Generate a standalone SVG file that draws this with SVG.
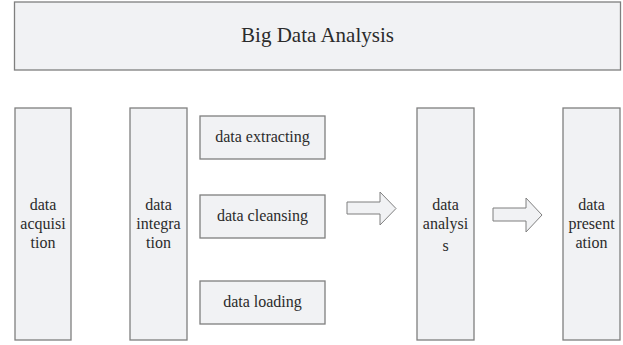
<svg xmlns="http://www.w3.org/2000/svg" width="623" height="345" viewBox="0 0 623 345">
  <style>
    .box { fill: #f1f2f4; stroke: #7f7f7f; stroke-width: 1.3; }
    .arrow { fill: #f1f2f4; stroke: #7f7f7f; stroke-width: 1; stroke-linejoin: miter; }
    text { font-family: "Liberation Serif", "DejaVu Serif", serif; fill: #2b2b2b; text-anchor: middle; }
    .t { font-size: 16px; }
    .title { font-size: 21px; }
  </style>
  <rect width="623" height="345" fill="#ffffff"/>

  <g id="big-data-analysis">
    <rect class="box" x="14.5" y="2" width="606" height="68"/>
    <text class="title" x="317.5" y="42">Big Data Analysis</text>
  </g>

  <g id="data-acquisition">
    <rect class="box" x="15" y="108" width="56" height="232"/>
    <text class="t" x="43" y="210">data</text>
    <text class="t" x="43" y="229">acquisi</text>
    <text class="t" x="43" y="248">tion</text>
  </g>

  <g id="data-integration">
    <rect class="box" x="130" y="108" width="57" height="232"/>
    <text class="t" x="158.5" y="210">data</text>
    <text class="t" x="158.5" y="229">integra</text>
    <text class="t" x="158.5" y="248">tion</text>
  </g>

  <g id="data-extracting">
    <rect class="box" x="200" y="116" width="125" height="43"/>
    <text class="t" x="262.5" y="142">data extracting</text>
  </g>

  <g id="data-cleansing">
    <rect class="box" x="200" y="195" width="125" height="43"/>
    <text class="t" x="262.5" y="221">data cleansing</text>
  </g>

  <g id="data-loading">
    <rect class="box" x="200" y="281" width="125" height="43"/>
    <text class="t" x="262.5" y="307">data loading</text>
  </g>

  <g id="data-analysis">
    <rect class="box" x="417" y="108" width="57" height="232"/>
    <text class="t" x="445.5" y="210">data</text>
    <text class="t" x="445.5" y="229">analysi</text>
    <text class="t" x="445.5" y="251">s</text>
  </g>

  <g id="data-presentation">
    <rect class="box" x="563" y="108" width="57" height="232"/>
    <text class="t" x="591.5" y="210">data</text>
    <text class="t" x="591.5" y="229">present</text>
    <text class="t" x="591.5" y="248">ation</text>
  </g>

  <g id="connectors">
    <polygon class="arrow" points="347,202 380,202 380,192 396,208.5 380,225 380,214 347,214"/>
    <polygon class="arrow" points="493,208 526,208 526,198 542,215 526,232 526,221 493,221"/>
  </g>
</svg>
